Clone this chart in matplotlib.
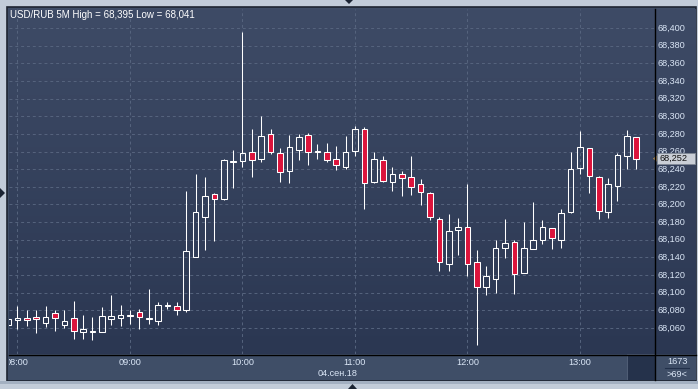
import numpy as np
import pandas as pd
import matplotlib
matplotlib.use("Agg")
import matplotlib.pyplot as plt
from matplotlib.patches import Rectangle, Polygon
from matplotlib.lines import Line2D
from matplotlib.colors import LinearSegmentedColormap


COLORS = {
    "frame": "#c2ccd9",
    "border": "#1e2532",
    "plot_top": "#3e4b66",
    "plot_bottom": "#2b3752",
    "axis_strip": "#3f4e67",
    "scroll": "#25324b",
    "grid": "#56647e",
    "red": "#dc143c",
    "text": "#dae6f6",
    "price_box": "#c9ced6",
}

# USD/RUB 5 minute candles, 04.09.2018, starting 07:55
opens = [68.063, 68.069, 68.071, 68.072, 68.066, 68.077, 68.063, 68.071, 68.056, 68.056,
         68.056, 68.070, 68.071, 68.074, 68.078, 68.070, 68.068, 68.085, 68.085, 68.080,
         68.140, 68.186, 68.212, 68.206, 68.248, 68.249, 68.259, 68.252, 68.280, 68.258,
         68.238, 68.262, 68.279, 68.261, 68.260, 68.252, 68.243, 68.261, 68.286, 68.226,
         68.250, 68.225, 68.234, 68.231, 68.223, 68.213, 68.184, 68.133, 68.171, 68.175,
         68.135, 68.107, 68.116, 68.151, 68.157, 68.122, 68.150, 68.160, 68.173, 68.160,
         68.191, 68.241, 68.264, 68.231, 68.191, 68.221, 68.255, 68.277]
highs = [68.072, 68.085, 68.080, 68.080, 68.085, 68.080, 68.080, 68.091, 68.075, 68.072,
         68.084, 68.098, 68.086, 68.081, 68.082, 68.104, 68.089, 68.089, 68.089, 68.215,
         68.235, 68.231, 68.213, 68.251, 68.262, 68.395, 68.285, 68.300, 68.285, 68.264,
         68.279, 68.280, 68.281, 68.268, 68.270, 68.266, 68.278, 68.289, 68.288, 68.259,
         68.255, 68.243, 68.238, 68.255, 68.229, 68.214, 68.186, 68.189, 68.185, 68.223,
         68.148, 68.130, 68.160, 68.183, 68.160, 68.180, 68.203, 68.182, 68.173, 68.195,
         68.259, 68.283, 68.264, 68.232, 68.230, 68.258, 68.284, 68.277]
lows = [68.061, 68.059, 68.062, 68.054, 68.061, 68.057, 68.060, 68.048, 68.048, 68.047,
        68.056, 68.063, 68.062, 68.065, 68.059, 68.065, 68.064, 68.082, 68.075, 68.078,
        68.140, 68.148, 68.159, 68.205, 68.219, 68.242, 68.231, 68.248, 68.257, 68.225,
        68.224, 68.250, 68.245, 68.252, 68.248, 68.239, 68.240, 68.255, 68.195, 68.224,
        68.225, 68.215, 68.210, 68.211, 68.199, 68.182, 68.125, 68.125, 68.143, 68.119,
        68.041, 68.098, 68.100, 68.139, 68.099, 68.122, 68.150, 68.155, 68.150, 68.151,
        68.190, 68.234, 68.213, 68.184, 68.185, 68.204, 68.240, 68.240]
closes = [68.070, 68.071, 68.069, 68.070, 68.072, 68.071, 68.068, 68.057, 68.059, 68.057,
          68.074, 68.074, 68.075, 68.075, 68.072, 68.071, 68.086, 68.086, 68.080, 68.147,
          68.192, 68.210, 68.206, 68.250, 68.249, 68.258, 68.250, 68.278, 68.259, 68.237,
          68.265, 68.277, 68.259, 68.259, 68.250, 68.245, 68.259, 68.285, 68.224, 68.251,
          68.227, 68.235, 68.230, 68.220, 68.214, 68.186, 68.135, 68.170, 68.174, 68.133,
          68.107, 68.119, 68.151, 68.156, 68.121, 68.151, 68.160, 68.174, 68.162, 68.190,
          68.240, 68.265, 68.232, 68.193, 68.223, 68.256, 68.278, 68.252]

price_ticks = [68.060, 68.080, 68.100, 68.120, 68.140, 68.160, 68.180, 68.200, 68.220,
               68.240, 68.260, 68.280, 68.300, 68.320, 68.340, 68.360, 68.380, 68.400]
hour_labels = ["08:00", "09:00", "10:00", "11:00", "12:00", "13:00"]
date_label = "04.сен.18"
corner_top = "1673"
corner_bottom = ">69<"

plt.rcParams["font.family"] = ["Liberation Sans", "DejaVu Sans"]
FS = 6.6

W, H = 698, 389
BODY_W = 3.0


def fig_box(left, top, right, bottom):
    """ Converts pixel edges (origin top-left) to a figure axes rectangle """
    return [left / W, 1 - bottom / H, (right - left) / W, (bottom - top) / H]


def bare(ax):
    ax.set_xticks([])
    ax.set_yticks([])
    for spine in ax.spines.values():
        spine.set_visible(False)


def fmt_price(value):
    return f"{value:.3f}".replace(".", ",")


start = pd.Timestamp("2018-09-04 07:55")
times = pd.date_range(start, periods=len(opens), freq="5min")
x = (times - pd.Timestamp("2018-09-04 08:00")).total_seconds().to_numpy() / 60
hour_pos = [(pd.Timestamp(f"2018-09-04 {h}") - pd.Timestamp("2018-09-04 08:00")).total_seconds() / 60
            for h in hour_labels]

x_lim = (-4.5, 340.0)
y_lim = (68.0306, 68.4215)

fig = plt.figure(figsize=(W / 100, H / 100), dpi=100, facecolor=COLORS["frame"])

# dark panel and its border
fig.patches.append(Rectangle((7 / W, 1 - 381 / H), (696 - 7) / W, (381 - 7) / H,
                             transform=fig.transFigure, facecolor=COLORS["axis_strip"],
                             edgecolor=COLORS["border"], lw=1.2, zorder=-1))
fig.patches.append(Rectangle((0, 1 - 384 / H), 1, 3 / H, transform=fig.transFigure,
                             facecolor="#a3b0c1", edgecolor="none", zorder=-1))

gradient = np.linspace(0, 1, 256).reshape(-1, 1)
cmap = LinearSegmentedColormap.from_list("bg", [COLORS["plot_top"], COLORS["plot_bottom"]])

# main price area
ax = fig.add_axes(fig_box(9, 9, 655, 354))
bare(ax)
ax.imshow(gradient, aspect="auto", cmap=cmap, origin="upper",
          extent=[x_lim[0], x_lim[1], y_lim[0], y_lim[1]], zorder=0)

for value in price_ticks:
    ax.axhline(value, color=COLORS["grid"], lw=0.7, linestyle=(0, (3, 3)), zorder=1)
for pos in hour_pos:
    ax.axvline(pos, color=COLORS["grid"], lw=0.7, linestyle=(0, (3, 3)), zorder=1)

for xi, o, h, l, c in zip(x, opens, highs, lows, closes):
    top, bottom = max(o, c), min(o, c)
    rising = c >= o
    ax.vlines(xi, top, h, color="white", lw=0.75, zorder=2)
    ax.vlines(xi, l, bottom, color="white", lw=0.75, zorder=2)
    ax.add_patch(Rectangle((xi - BODY_W / 2, bottom), BODY_W, top - bottom,
                           facecolor="none" if rising else COLORS["red"],
                           edgecolor="white", lw=0.75, zorder=3))

ax.set_xlim(*x_lim)
ax.set_ylim(*y_lim)

title = f"USD/RUB 5M High = {fmt_price(max(highs))} Low = {fmt_price(min(lows))}"
fig.text(10 / W, 1 - 15 / H, title, color="white", fontsize=7.0, va="center", ha="left")

# right price scale
ax_r = fig.add_axes(fig_box(655, 9, 696, 354))
bare(ax_r)
ax_r.imshow(gradient, aspect="auto", cmap=cmap, origin="upper",
            extent=[0, 1, y_lim[0], y_lim[1]], zorder=0)
for value in price_ticks:
    ax_r.text(0.07, value, fmt_price(value), color=COLORS["text"], fontsize=FS,
              va="center", ha="left", zorder=2)

# last price marker sits over the scale, as in the terminal
last = closes[-1]
ax_r.add_patch(Rectangle((0.04, last - 0.0062), 0.93, 0.0124, facecolor=COLORS["price_box"],
                         edgecolor="#7f8895", lw=0.6, zorder=4))
ax_r.add_patch(Polygon([(-0.05, last), (0.04, last + 0.0035), (0.04, last - 0.0035)],
                       closed=True, facecolor="#b08a50", edgecolor="none", zorder=4, clip_on=False))
ax_r.text(0.12, last, fmt_price(last), color="#111111", fontsize=FS, va="center", ha="left", zorder=5)
ax_r.set_xlim(0, 1)
ax_r.set_ylim(*y_lim)

# time scale
ax_b = fig.add_axes(fig_box(9, 354, 655, 380))
bare(ax_b)
ax_b.set_facecolor(COLORS["axis_strip"])
ax_b.set_xlim(*x_lim)
ax_b.set_ylim(0, 1)
for pos, label in zip(hour_pos, hour_labels):
    ax_b.text(pos, 0.67, label, color=COLORS["text"], fontsize=FS, ha="center", va="center", clip_on=True)
ax_b.text(0.509, 0.24, date_label, color=COLORS["text"], fontsize=FS, ha="center", va="center",
          transform=ax_b.transAxes)
ax_b.add_patch(Rectangle((0.957, 0), 0.043, 1, transform=ax_b.transAxes,
                         facecolor=COLORS["scroll"], edgecolor="#55637b", lw=0.6))

# corner counters
ax_c = fig.add_axes(fig_box(655, 354, 696, 380))
bare(ax_c)
ax_c.set_facecolor(COLORS["axis_strip"])
ax_c.text(0.54, 0.73, corner_top, color=COLORS["text"], fontsize=FS, ha="center", va="center")
ax_c.add_line(Line2D([0.24, 0.83], [0.47, 0.47], color="#22304a", lw=0.8, transform=ax_c.transAxes))
ax_c.text(0.54, 0.23, corner_bottom, color=COLORS["text"], fontsize=FS, ha="center", va="center")

# separators
fig.add_artist(Line2D([655 / W, 655 / W], [1 - 9 / H, 1 - 380 / H], color="black", lw=1.0,
                      transform=fig.transFigure))
fig.add_artist(Line2D([9 / W, 696 / W], [1 - 354.5 / H, 1 - 354.5 / H], color="black", lw=1.0,
                      transform=fig.transFigure))

# small scroll markers on the frame
marker_color = "#1b2433"
fig.patches.append(Polygon([(345 / W, 1), (353 / W, 1), (349 / W, 1 - 4 / H)],
                           transform=fig.transFigure, facecolor=marker_color, edgecolor="none"))
fig.patches.append(Polygon([(348 / W, 0), (357 / W, 0), (352.5 / W, 5 / H)],
                           transform=fig.transFigure, facecolor=marker_color, edgecolor="none"))
fig.patches.append(Polygon([(0, 1 - 188 / H), (0, 1 - 198 / H), (5 / W, 1 - 193 / H)],
                           transform=fig.transFigure, facecolor=marker_color, edgecolor="none"))

fig.savefig("out.png", dpi=100, facecolor=fig.get_facecolor())
